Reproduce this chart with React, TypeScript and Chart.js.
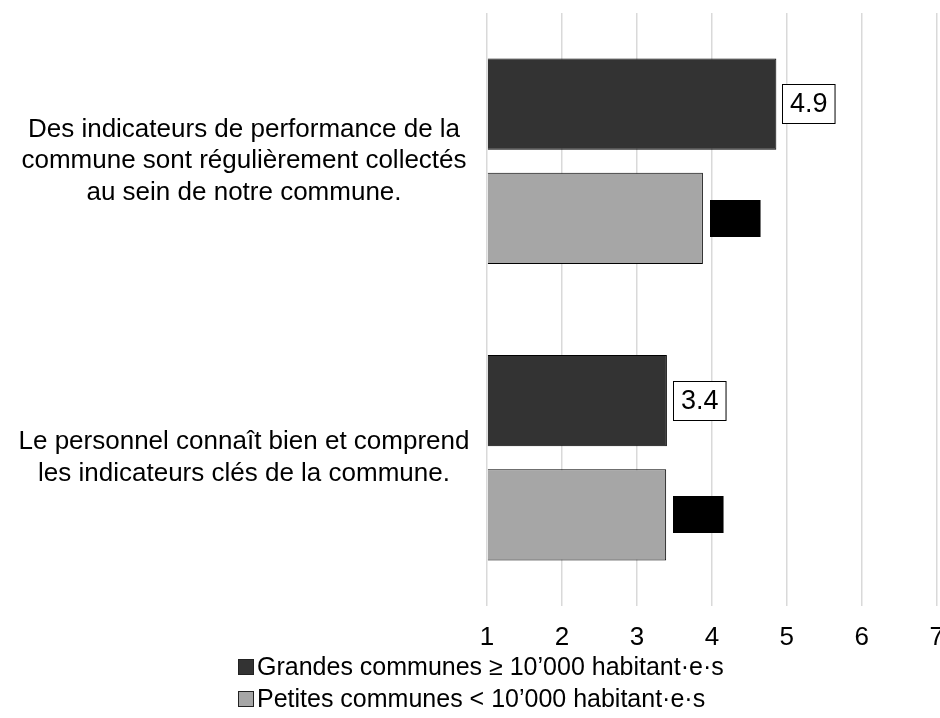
import React, { useEffect, useRef } from "react";
import { Chart, registerables } from "chart.js";

Chart.register(...registerables);

const categories: string[][] = [
  ["Des indicateurs de performance de la", "commune sont régulièrement collectés", "au sein de notre commune."],
  ["Le personnel connaît bien et comprend", "les indicateurs clés de la commune."],
];
const seriesNames = ["Grandes communes ≥ 10’000 habitant·e·s", "Petites communes < 10’000 habitant·e·s"];
const grandes = [4.86, 3.4];
const petites = [3.88, 3.39];
const axisMin = 1;
const axisMax = 7;

const FONT = '"Liberation Sans", Arial, sans-serif';
const DARK = "#333333";
const LIGHT = "#a6a6a6";

const legendPlugin = {
  id: "customLegend",
  afterDraw(chart: any) {
    const ctx = chart.ctx;
    ctx.save();
    ctx.font = `25px ${FONT}`;
    ctx.textBaseline = "middle";
    ctx.textAlign = "left";
    const x0 = 238;
    const y0 = 667;
    const row = 32;
    chart.data.datasets.forEach((ds: any, i: number) => {
      const cy = y0 + i * row;
      ctx.fillStyle = ds.backgroundColor;
      ctx.fillRect(x0, cy - 8, 16, 16);
      ctx.strokeStyle = "#222";
      ctx.lineWidth = 1;
      ctx.strokeRect(x0 + 0.5, cy - 7.5, 15, 15);
      ctx.fillStyle = "#000";
      ctx.fillText(ds.label, x0 + 19, cy + 1);
    });
    ctx.restore();
  },
};

const labelPlugin = {
  id: "valueLabels",
  afterDatasetsDraw(chart: any) {
    const ctx = chart.ctx;
    ctx.save();
    ctx.font = `27px ${FONT}`;
    ctx.textBaseline = "middle";
    ctx.textAlign = "center";
    chart.data.datasets.forEach((ds: any, i: number) => {
      const meta = chart.getDatasetMeta(i);
      meta.data.forEach((bar: any, j: number) => {
        const text = Number(ds.data[j]).toFixed(1);
        const tw = ctx.measureText(text).width;
        if (i === 0) {
          const w = tw + 16;
          const h = 40;
          const x = Math.round(bar.x + 6);
          const y = Math.round(bar.y - h / 2);
          ctx.fillStyle = "#fff";
          ctx.fillRect(x, y, w, h);
          ctx.strokeStyle = "#000";
          ctx.lineWidth = 1;
          ctx.strokeRect(x + 0.5, y + 0.5, w - 1, h - 1);
          ctx.fillStyle = "#000";
          ctx.fillText(text, x + w / 2, y + h / 2 + 1);
        } else {
          const w = tw + 13;
          const h = 37;
          const x = Math.round(bar.x + 7);
          const y = Math.round(bar.y - h / 2);
          ctx.fillStyle = "#000";
          ctx.fillRect(x, y, w, h);
          ctx.fillStyle = "#000";
          ctx.fillText(text, x + w / 2, y + h / 2 + 1);
        }
      });
    });
    ctx.restore();
  },
};

export default function App() {
  const ref = useRef<HTMLCanvasElement | null>(null);

  useEffect(() => {
    const canvas = ref.current;
    if (!canvas) return;
    const m = document.createElement("canvas").getContext("2d")!;
    m.font = `26px ${FONT}`;
    let widest = 0;
    categories.forEach((c) => c.forEach((l) => (widest = Math.max(widest, m.measureText(l).width))));
    const yPad = Math.max(0, 487 - 244 - widest / 2);

    const chart = new Chart(canvas, {
      type: "bar",
      data: {
        labels: categories as any,
        datasets: [
          {
            label: seriesNames[0],
            data: grandes,
            backgroundColor: DARK,
            borderColor: "#000",
            borderWidth: 1,
            base: axisMin,
            categoryPercentage: 0.77,
            barPercentage: 0.8,
          } as any,
          {
            label: seriesNames[1],
            data: petites,
            backgroundColor: LIGHT,
            borderColor: "#000",
            borderWidth: 1,
            base: axisMin,
            categoryPercentage: 0.77,
            barPercentage: 0.8,
          } as any,
        ],
      },
      options: {
        indexAxis: "y",
        animation: false,
        responsive: false,
        devicePixelRatio: 1,
        layout: { padding: { top: 13, right: 21, bottom: 62, left: 0 } },
        plugins: {
          legend: { display: false },
          tooltip: { enabled: false },
        },
        scales: {
          x: {
            min: axisMin,
            max: axisMax,
            ticks: {
              stepSize: 1,
              color: "#000",
              padding: 16,
              font: { family: FONT, size: 26 },
            },
            grid: { color: "#d9d9d9", lineWidth: 1.5, drawTicks: false },
            border: { display: false },
            afterFit: (s: any) => {
              s.height = 50;
            },
          },
          y: {
            ticks: {
              color: "#000",
              crossAlign: "center",
              padding: yPad,
              font: { family: FONT, size: 26, lineHeight: 1.2 },
            },
            grid: { display: false, drawTicks: false },
            border: { display: false },
            afterFit: (s: any) => {
              s.width = 487;
              s.paddingTop = 0;
              s.paddingBottom = 0;
            },
          },
        },
      } as any,
      plugins: [labelPlugin, legendPlugin],
    });
    return () => chart.destroy();
  }, []);

  return (
    <div
      style={{
        position: "fixed",
        left: 0,
        top: 0,
        width: 940,
        height: 718,
        overflow: "hidden",
        background: "#fff",
      }}
    >
      <canvas ref={ref} width={960} height={718} style={{ display: "block" }} />
    </div>
  );
}
